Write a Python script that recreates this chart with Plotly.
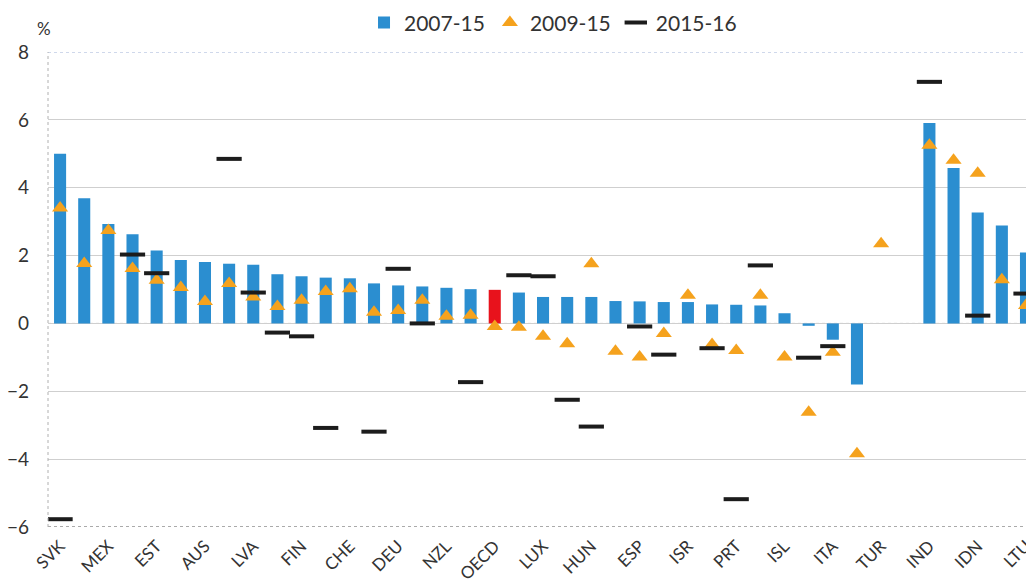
import plotly.graph_objects as go

# country codes in chart order; " " is the empty gap before the partner economies
countries = ["SVK", "POL", "MEX", "CZE", "EST", "KOR", "AUS", "IRL", "LVA", "SWE",
             "FIN", "NOR", "CHE", "AUT", "DEU", "CAN", "NZL", "CHL", "OECD", "BEL",
             "LUX", "USA", "HUN", "SVN", "ESP", "FRA", "ISR", "NLD", "PRT", "JPN",
             "ISL", "GBR", "ITA", "GRC", "TUR", " ", "IND", "CHN", "IDN", "BRA", "LTU"]

growth_2007_15 = [5.00, 3.69, 2.93, 2.63, 2.15, 1.87, 1.81, 1.76, 1.73, 1.45,
                  1.39, 1.35, 1.33, 1.18, 1.12, 1.09, 1.05, 1.01, 0.99, 0.91,
                  0.78, 0.78, 0.78, 0.66, 0.65, 0.63, 0.63, 0.56, 0.55, 0.53,
                  0.30, -0.07, -0.48, -1.80, None, None, 5.91, 4.58, 3.27, 2.89, 2.09]

growth_2009_15 = [3.40, 1.77, 2.74, 1.62, 1.27, 1.06, 0.65, 1.18, 0.78, 0.50,
                  0.68, 0.94, 1.02, 0.33, 0.38, 0.68, 0.21, 0.24, -0.09, -0.11,
                  -0.38, -0.60, 1.76, -0.82, -0.99, -0.30, 0.83, -0.62, -0.80, 0.83,
                  -0.99, -2.62, -0.85, -3.84, 2.35, None, 5.25, 4.81, 4.43, 1.29, 0.53]

growth_2015_16 = [-5.77, None, None, 2.03, 1.48, None, None, 4.85, 0.91, -0.27,
                  -0.38, -3.08, None, -3.19, 1.61, 0.00, None, -1.73, None, 1.42,
                  1.39, -2.25, -3.04, None, -0.09, -0.92, None, -0.73, -5.18, 1.71,
                  None, -1.01, -0.67, None, None, None, 7.12, None, 0.23, None, 0.88]

shown_labels = countries[0:41:2]

BLUE = "#2B8ED0"
RED = "#E8121C"
ORANGE = "#F5A21D"
DARK = "#1C1C1C"

bar_colors = [RED if c == "OECD" else BLUE for c in countries]

fig = go.Figure()

fig.add_trace(go.Bar(
    x=countries, y=growth_2007_15, name="2007-15",
    marker=dict(color=bar_colors, line=dict(width=0)),
    width=0.5,
))

fig.add_trace(go.Scatter(
    x=countries, y=growth_2009_15, name="2009-15", mode="markers",
    marker=dict(symbol="triangle-up", size=14, color=ORANGE),
))

fig.add_trace(go.Scatter(
    x=countries, y=growth_2015_16, name="2015-16", mode="markers",
    marker=dict(symbol="line-ew", size=18, line=dict(width=4, color=DARK)),
))

# the plot runs to the right edge like the cropped original,
# so the last country is only partly seen
fig.update_layout(
    width=1026, height=584,
    margin=dict(l=48, r=0, t=52, b=57, autoexpand=False),
    paper_bgcolor="white", plot_bgcolor="white",
    font=dict(family="Lato, Open Sans, sans-serif", color="#333333"),
    showlegend=True,
    legend=dict(orientation="h", xref="container", yref="container",
                x=0.539, xanchor="center", y=0.961, yanchor="middle",
                font=dict(size=21, color="#333333"), traceorder="normal",
                itemwidth=30, bgcolor="rgba(0,0,0,0)"),
)

fig.update_xaxes(
    type="category", range=[-0.5, 40.0], automargin=False,
    tickmode="array", tickvals=shown_labels, ticktext=shown_labels,
    tickangle=-45, tickfont=dict(size=17, color="#333333"),
    showgrid=False, showline=False, ticks="", ticklabelstandoff=5,
)

fig.update_yaxes(
    range=[-6, 8], dtick=2, tick0=0, automargin=False,
    tickfont=dict(size=19, color="#333333"),
    showgrid=True, gridcolor="#cfcfcf", gridwidth=1,
    zeroline=False, showline=False, ticks="", ticklabelstandoff=18,
)

# dotted frame lines as in the source chart
fig.add_hline(y=0, line=dict(color="#9a9a9a", width=1, dash="dot"), layer="below")
fig.add_hline(y=8, line=dict(color="#9fb2d8", width=1, dash="dot"))
fig.add_hline(y=-6, line=dict(color="#555555", width=1, dash="dot"))
fig.add_shape(type="line", xref="paper", yref="paper", x0=0, x1=0, y0=0, y1=1,
              line=dict(color="#b0b0b0", width=1, dash="dot"))

fig.add_annotation(text="%", xref="paper", yref="paper", x=-0.004, y=1.05,
                   xanchor="center", yanchor="middle", showarrow=False,
                   font=dict(size=17, color="#333333"))

# drop the default page margin so the figure sits at the window's corner
fig.write_html("out.html", config={"displayModeBar": False},
               post_script="document.body.style.margin = '0';")
